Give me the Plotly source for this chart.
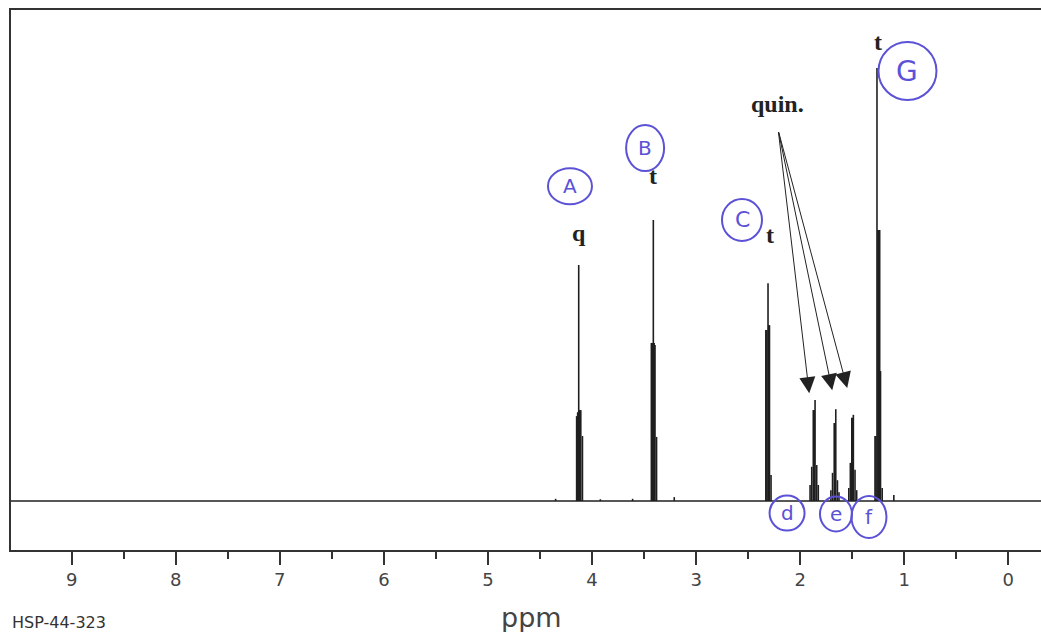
import plotly.graph_objects as go

# ---- data: 1H NMR stick spectrum (chemical shift in ppm, relative intensity %) ----
a_ppm = [4.148, 4.138, 4.128, 4.118, 4.108, 4.092]
a_int = [19.6, 20.5, 54.5, 21.0, 21.0, 15.0]
b_ppm = [3.430, 3.420, 3.411, 3.403, 3.395, 3.380]
b_int = [36.5, 36.5, 64.9, 36.5, 36.0, 14.8]
c_ppm = [2.330, 2.320, 2.309, 2.302, 2.295, 2.280]
c_int = [39.5, 39.5, 50.3, 40.6, 40.6, 6.0]
d_ppm = [1.905, 1.889, 1.874, 1.865, 1.857, 1.841, 1.826]
d_int = [3.7, 7.9, 21.0, 21.0, 23.3, 8.3, 3.7]
e_ppm = [1.705, 1.689, 1.673, 1.665, 1.658, 1.642, 1.627]
e_int = [2.5, 6.5, 18.0, 18.0, 21.2, 4.8, 2.0]
f_ppm = [1.533, 1.518, 1.504, 1.496, 1.489, 1.473, 1.457]
f_int = [3.0, 8.8, 19.2, 19.2, 19.9, 7.2, 2.5]
g_ppm = [1.281, 1.272, 1.262, 1.253, 1.245, 1.236, 1.228, 1.212]
g_int = [15.0, 15.0, 100.0, 62.6, 62.6, 62.6, 30.0, 3.0]
minor_ppm = [4.35, 3.92, 3.61, 3.21, 1.10]
minor_int = [0.5, 0.4, 0.5, 0.9, 1.4]

x_left, x_right = 9.583, -0.314
y_low, y_high = -11.32, 113.39
tick_vals = [9, 8, 7, 6, 5, 4, 3, 2, 1, 0]
tick_text = ["9", "8", "7", "6", "5", "4", "3", "2", "1", "0"]
minor_tick_vals = [8.5, 7.5, 6.5, 5.5, 4.5, 3.5, 2.5, 1.5, 0.5]

mult_labels = ["q", "t", "t", "t"]
mult_label_ppm = [4.13, 3.41, 2.29, 1.25]
mult_label_int = [62.0, 75.0, 61.5, 106.0]

hand_letters = ["A", "B", "C", "G", "d", "e", "f"]
hand_ppm = [4.212, 3.490, 2.559, 0.969, 2.126, 1.656, 1.339]
hand_int = [72.7, 81.5, 64.9, 99.3, -2.8, -3.0, -3.7]
hand_w = [44, 38, 40, 58, 35, 32, 35]
hand_h = [36, 46, 42, 58, 35, 35, 42]
hand_size = [20, 20, 22, 28, 20, 20, 20]

quin_tail = (2.21, 85.5)
quin_heads_ppm = [1.913, 1.692, 1.548]
quin_heads_int = [24.9, 25.6, 26.1]

# ---- build stick segments ----
all_ppm = a_ppm + b_ppm + c_ppm + d_ppm + e_ppm + f_ppm + g_ppm + minor_ppm
all_int = a_int + b_int + c_int + d_int + e_int + f_int + g_int + minor_int
xs, ys = [], []
for p, h in zip(all_ppm, all_int):
    xs += [p, p, None]
    ys += [0, h, None]

ink = "#1f1f1f"
blue = "#5b52d6"

fig = go.Figure()
fig.add_trace(go.Scatter(x=[x_left, x_right], y=[0, 0], mode="lines",
                         line=dict(color=ink, width=1.3), hoverinfo="skip"))
fig.add_trace(go.Scatter(x=xs, y=ys, mode="lines",
                         line=dict(color=ink, width=1.6), connectgaps=False))

annotations = []
for t, p, h in zip(mult_labels, mult_label_ppm, mult_label_int):
    annotations.append(dict(x=p, y=h, xref="x", yref="y", text="<b>%s</b>" % t,
                            showarrow=False,
                            font=dict(family="Liberation Serif", size=24, color="#222")))
annotations.append(dict(x=2.22, y=91.6, xref="x", yref="y", text="<b>quin.</b>",
                        showarrow=False,
                        font=dict(family="Liberation Serif", size=24, color="#222")))
for hp, hi in zip(quin_heads_ppm, quin_heads_int):
    annotations.append(dict(x=hp, y=hi, xref="x", yref="y",
                            ax=quin_tail[0], ay=quin_tail[1], axref="x", ayref="y",
                            showarrow=True, arrowhead=2, arrowsize=3.2, arrowwidth=1,
                            arrowcolor="#222", text=""))
for t, p, h, s in zip(hand_letters, hand_ppm, hand_int, hand_size):
    annotations.append(dict(x=p, y=h, xref="x", yref="y", text=t, showarrow=False,
                            font=dict(family="DejaVu Sans", size=s, color=blue)))
annotations.append(dict(x=(531 - 11) / 1030, y=(550 - 617) / 540, xref="paper", yref="paper",
                        text="ppm", showarrow=False, xanchor="center", yanchor="middle",
                        font=dict(family="DejaVu Sans", size=27, color="#444")))
annotations.append(dict(x=(10 - 11) / 1030, y=(550 - 622) / 540, xref="paper", yref="paper",
                        text="HSP-44-323", showarrow=False, xanchor="left", yanchor="middle",
                        font=dict(family="DejaVu Sans", size=16, color="#333")))

shapes = []
for p, h, w, hh in zip(hand_ppm, hand_int, hand_w, hand_h):
    shapes.append(dict(type="circle", xref="x", yref="y", xsizemode="pixel",
                       ysizemode="pixel", xanchor=p, yanchor=h,
                       x0=-w / 2, x1=w / 2, y0=-hh / 2, y1=hh / 2,
                       line=dict(color=blue, width=2)))

fig.update_layout(
    width=1041, height=632, autosize=False,
    margin=dict(l=11, r=0, t=10, b=82),
    paper_bgcolor="white", plot_bgcolor="white",
    showlegend=False,
    annotations=annotations, shapes=shapes,
    xaxis=dict(range=[x_left, x_right], showgrid=False, zeroline=False,
               showline=True, linecolor="#333", linewidth=1.5, mirror=True,
               ticks="outside", ticklen=13, tickwidth=1.5, tickcolor="#333",
               tickvals=tick_vals, ticktext=tick_text,
               tickfont=dict(family="DejaVu Sans", size=18, color="#444"),
               minor=dict(ticks="outside", ticklen=7, tickwidth=1.5, tickcolor="#333",
                          tickmode="array", tickvals=minor_tick_vals, showgrid=False)),
    yaxis=dict(range=[y_low, y_high], showgrid=False, zeroline=False,
               showline=True, linecolor="#333", linewidth=1.5, mirror=False,
               showticklabels=False, ticks=""),
)

fig.write_html("out.html")
